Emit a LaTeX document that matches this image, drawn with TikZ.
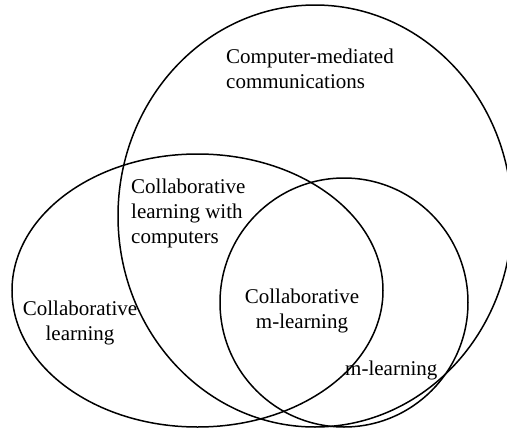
\documentclass[tikz,border=0pt]{standalone}
\usepackage{fontspec}
\setmainfont{Liberation Serif}
\begin{document}
\begin{tikzpicture}[x=1pt,y=-1pt,
  set/.style={draw=black,line width=1.5pt},
  lbl/.style={inner sep=0pt,font=\fontsize{21}{25}\selectfont}]
\useasboundingbox (0,0) rectangle (507,429);
\clip (0,0) rectangle (507,429);
\draw[set] (315,216) ellipse [x radius=197, y radius=211];
\draw[set] (197.5,290.5) ellipse [x radius=185.5, y radius=136.5];
\draw[set] (344,302.5) ellipse [x radius=124, y radius=124.5];
\node[lbl,align=left,anchor=north west] (cmc) at (226,48.7) {Computer-mediated\\communications};
\node[lbl,align=left,anchor=north west] (clc) at (131,178.7) {Collaborative\\learning with\\computers};
\node[lbl,align=center,anchor=north] (cl) at (80,300.7) {Collaborative\\learning};
\node[lbl,align=center,anchor=north] (cml) at (302,288.7) {Collaborative\\m-learning};
\node[lbl,anchor=base west] (ml) at (345,375) {m-learning};
\end{tikzpicture}
\end{document}
